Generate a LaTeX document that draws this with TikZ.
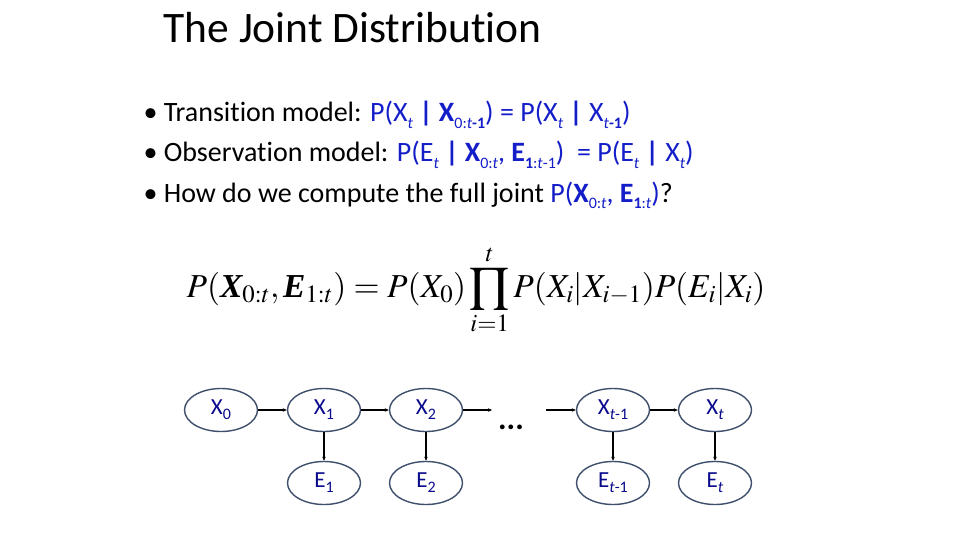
\documentclass[tikz,border=0pt]{standalone}
\usepackage{amsmath}
\usepackage{mathptmx}
\usepackage[no-math]{fontspec}
\setmainfont{Carlito}[Ligatures=NoCommon]
\newfontfamily\eqfont{Liberation Serif}
\usetikzlibrary{positioning,arrows.meta,shapes.geometric}
\definecolor{formblue}{RGB}{20,30,200}
\definecolor{nodeblue}{RGB}{10,10,140}
\definecolor{edgegray}{RGB}{62,80,108}
\newcommand{\bx}[1]{{\bfseries #1}}
\newcommand{\ti}{\textit{t}}
\newcommand{\lo}[1]{\raisebox{-0.22em}{\fontsize{16}{18}\selectfont #1}}
\newcommand{\bix}[1]{\text{\eqfont\bfseries\itshape #1}}
\begin{document}
\begin{tikzpicture}[
  x=1pt, y=-1pt,
  var/.style={ellipse, draw=edgegray, line width=1.4pt, fill=white, minimum width=73pt, minimum height=43pt,
    inner sep=0pt, text=nodeblue, font=\fontsize{23}{26}\selectfont},
  link/.style={-{Stealth[length=4pt,width=3.5pt]}, line width=1.1pt, black},
  line/.style={anchor=base west, font=\fontsize{28}{32}\selectfont},
  node distance=102pt
]
\useasboundingbox (0,0) rectangle (960,540);

\node[anchor=base west, font=\fontsize{43.5}{48}\selectfont] (title) at (160,43) {The Joint Distribution};

\node[line] (trans) at (140,122) {\textbullet\ Transition model: \textcolor{formblue}{P(X\lo{\ti}
  \bx{|} \bx{X}\lo{0:\ti\bx{-1}}) = P(X\lo{\ti} \bx{|} X\lo{\ti\bx{-1}})}};
\node[line] (obs) at (140,162) {\textbullet\ Observation model: \textcolor{formblue}{P(E\lo{\ti}
  \bx{|} \bx{X}\lo{0:\ti}, \bx{E}\lo{\bx{1}:\ti-1})\ \ = P(E\lo{\ti} \bx{|} X\lo{\ti})}};
\node[line] (how) at (140,202) {\textbullet\ How do we compute the full joint
  \textcolor{formblue}{P(\bx{X}\lo{0:\ti}, \bx{E}\lo{\bx{1}:\ti})}?};

\node[font=\fontsize{33.5}{38}\selectfont] (joint) at (476,290)
  {$\displaystyle P(\bix{X}_{0:t},\bix{E}_{1:t}) = P(X_0)\prod_{i=1}^{t}P(X_i|X_{i-1})P(E_i|X_i)$};

% hidden states
\node[var] (x0) at (221,410) {X\lo{0}};
\node[var, right of=x0, node distance=103pt] (x1) {X\lo{1}};
\node[var, right of=x1] (x2) {X\lo{2}};
\node[var, right of=x2, node distance=187pt] (xtm) {X\lo{\ti-1}};
\node[var, right of=xtm] (xt) {X\lo{\ti}};

% evidence
\node[var, below of=x1, node distance=73pt] (e1) {E\lo{1}};
\node[var, below of=x2, node distance=73pt] (e2) {E\lo{2}};
\node[var, below of=xtm, node distance=73pt] (etm) {E\lo{\ti-1}};
\node[var, below of=xt, node distance=73pt] (et) {E\lo{\ti}};

\coordinate (gapl) at (492,410);
\coordinate (gapr) at (546,410);
\node[font=\fontsize{32}{36}\selectfont\bfseries] (dots) at (511,427) {...};

\draw[link] (x0) -- (x1);
\draw[link] (x1) -- (x2);
\draw[link] (x2) -- (gapl);
\draw[link] (gapr) -- (xtm);
\draw[link] (xtm) -- (xt);
\draw[link] (x1) -- (e1);
\draw[link] (x2) -- (e2);
\draw[link] (xtm) -- (etm);
\draw[link] (xt) -- (et);
\end{tikzpicture}
\end{document}
